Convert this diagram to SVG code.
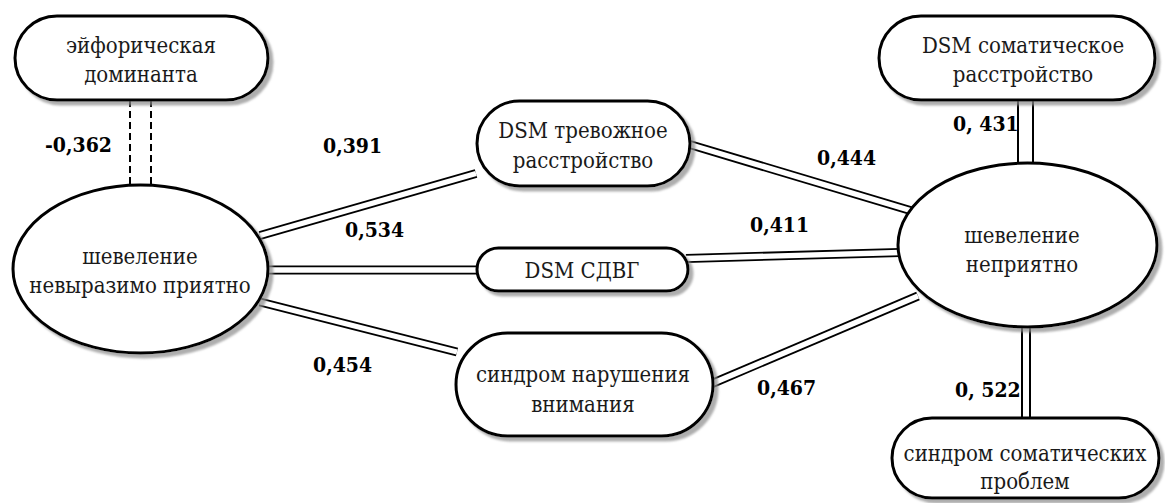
<svg xmlns="http://www.w3.org/2000/svg" width="1165" height="503" viewBox="0 0 1165 503">
<defs>
<filter id="sh" x="-10%" y="-10%" width="130%" height="140%">
<feDropShadow dx="4" dy="4" stdDeviation="1.2" flood-color="#8c8c8c" flood-opacity="0.7"/>
</filter>
</defs>
<style>
.node{fill:#fff;stroke:#000;stroke-width:3;filter:url(#sh)}
text{font-family:'DejaVu Serif Condensed','DejaVu Serif',serif;font-stretch:condensed}
.t{font-size:22px;fill:#1a1a1a;text-anchor:middle}
.lab{font-size:21px;font-weight:bold;fill:#000}
.o{fill:none;stroke:#000;stroke-width:9}
.i{fill:none;stroke:#fff;stroke-width:5.4}
.dash{fill:none;stroke:#000;stroke-width:2;stroke-dasharray:7 4}
</style>
<rect width="1165" height="503" fill="#fff"/>
<g id="connectors">
<line class="dash" x1="130" y1="100" x2="130" y2="186"/>
<line class="dash" x1="151" y1="100" x2="151" y2="186"/>
<path class="o" d="M260 235.5 L476 173.5"/><path class="i" d="M260 235.5 L476 173.5"/>
<path class="o" d="M266 270 L479 270"/><path class="i" d="M266 270 L479 270"/>
<path class="o" d="M260 302 L457 352"/><path class="i" d="M260 302 L457 352"/>
<path class="o" d="M688 144 L912 211"/><path class="i" d="M688 144 L912 211"/>
<path class="o" d="M686 258.5 L900 252.5"/><path class="i" d="M686 258.5 L900 252.5"/>
<path class="o" d="M711 384 L918 296"/><path class="i" d="M711 384 L918 296"/>
<path d="M1025.5 98 L1025.5 166" fill="none" stroke="#000" stroke-width="17"/>
<path d="M1025.5 98 L1025.5 166" fill="none" stroke="#fff" stroke-width="13"/>
<path d="M1026 325 L1026 420" fill="none" stroke="#000" stroke-width="10"/>
<path d="M1026 325 L1026 420" fill="none" stroke="#fff" stroke-width="6"/>
</g>
<g id="euphoric">
<rect class="node" x="15" y="16" width="253" height="84" rx="42" ry="42"/>
<text class="t" x="141" y="53">эйфорическая</text>
<text class="t" x="141" y="82">доминанта</text>
</g>
<g id="pleasant">
<ellipse class="node" cx="140.5" cy="269" rx="127.5" ry="84"/>
<text class="t" x="140" y="264">шевеление</text>
<text class="t" x="140" y="293">невыразимо приятно</text>
</g>
<g id="anxiety">
<rect class="node" x="477" y="101" width="213" height="85" rx="42.5" ry="42.5"/>
<text class="t" x="583" y="138">DSM тревожное</text>
<text class="t" x="583" y="168">расстройство</text>
</g>
<g id="adhd">
<rect class="node" x="477" y="248" width="211" height="43" rx="21.5" ry="21.5"/>
<text class="t" x="582" y="278">DSM СДВГ</text>
</g>
<g id="attention">
<rect class="node" x="456" y="333" width="257" height="103" rx="51.5" ry="51.5"/>
<text class="t" x="583" y="382">синдром нарушения</text>
<text class="t" x="583" y="412">внимания</text>
</g>
<g id="unpleasant">
<ellipse class="node" cx="1027.5" cy="245" rx="129.5" ry="82"/>
<text class="t" x="1022" y="243">шевеление</text>
<text class="t" x="1022" y="272">неприятно</text>
</g>
<g id="somatic-disorder">
<rect class="node" x="879" y="16" width="276" height="84" rx="42" ry="42"/>
<text class="t" x="1023" y="53">DSM соматическое</text>
<text class="t" x="1023" y="82">расстройство</text>
</g>
<g id="somatic-syndrome">
<rect class="node" x="892" y="418" width="267" height="80" rx="40" ry="40"/>
<text class="t" x="1025" y="461">синдром соматических</text>
<text class="t" x="1025" y="489">проблем</text>
</g>
<g id="labels">
<text class="lab" x="45" y="152">-0,362</text>
<text class="lab" x="323" y="153">0,391</text>
<text class="lab" x="345" y="237">0,534</text>
<text class="lab" x="313" y="372">0,454</text>
<text class="lab" x="817" y="165">0,444</text>
<text class="lab" x="750" y="232">0,411</text>
<text class="lab" x="757" y="395">0,467</text>
<text class="lab" x="953" y="131">0, 431</text>
<text class="lab" x="955" y="397">0, 522</text>
</g>
</svg>
